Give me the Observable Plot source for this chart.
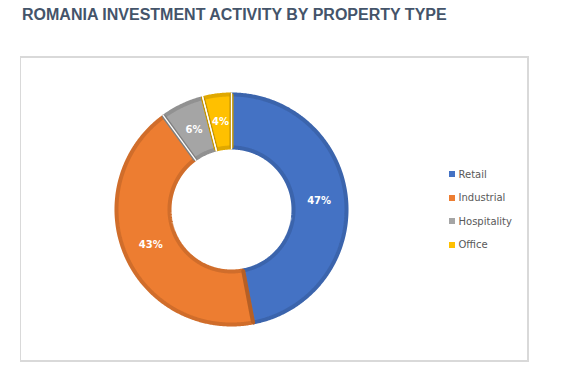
<!DOCTYPE html>
<html>
<head>
<meta charset="utf-8">
<script src="https://cdn.jsdelivr.net/npm/d3@7"></script>
<script src="https://cdn.jsdelivr.net/npm/@observablehq/plot@0.6"></script>
<style>
  body { margin: 0; background: #fff; width: 583px; height: 376px; position: relative; overflow: hidden; }
  #title { position: absolute; left: 22px; top: 6px; font: bold 16px "Liberation Sans", Arial, sans-serif; color: #44546A; white-space: nowrap; }
  #box { position: absolute; left: 20px; top: 56px; width: 506px; height: 302px; border-style: solid; border-color: #d9d9d9; border-width: 2px 2px 2px 1px; }
  #chart { position: absolute; left: 0; top: 0; }
  #legend { position: absolute; left: 449px; top: 162.5px; font: 10px "DejaVu Sans", sans-serif; color: #595959; }
  .item { height: 23.5px; display: flex; align-items: center; white-space: nowrap; }
  .sw { width: 6px; height: 6px; margin-right: 3.5px; }
</style>
</head>
<body>
<div id="title">ROMANIA INVESTMENT ACTIVITY BY PROPERTY TYPE</div>
<div id="box"></div>
<div id="chart"></div>
<div id="legend"></div>
<script>
// Data
const categories = ["Retail", "Industrial", "Hospitality", "Office"];
const shares = [47, 43, 6, 4];
const labels = ["47%", "43%", "6%", "4%"];
const colors = ["#4472C4", "#ED7D31", "#A5A5A5", "#FFC000"];

// Geometry (in radius units; outer visual radius = 1)
const W = 583, H = 376;
const cx = 231, cy = 209, Rpx = 117;
const rOuter = (Rpx - 2) / Rpx, rInner = 62 / Rpx, rLabel = 88 / Rpx;
const total = d3.sum(shares);

const ring = [];
const labelRows = [];
const bounds = [];
let acc = 0;
categories.forEach((type, i) => {
  const a0 = acc / total * 2 * Math.PI;
  acc += shares[i];
  const a1 = acc / total * 2 * Math.PI;
  const n = Math.max(2, Math.ceil((a1 - a0) / (Math.PI / 360)));
  const pts = [];
  for (let k = 0; k <= n; k++) { const a = a0 + (a1 - a0) * k / n; pts.push([rOuter * Math.sin(a), rOuter * Math.cos(a)]); }
  for (let k = n; k >= 0; k--) { const a = a0 + (a1 - a0) * k / n; pts.push([rInner * Math.sin(a), rInner * Math.cos(a)]); }
  pts.push(pts[0]);
  pts.forEach(([x, y]) => ring.push({type, x, y}));
  const am = (a0 + a1) / 2;
  labelRows.push({type, label: labels[i], x: rLabel * Math.sin(am), y: rLabel * Math.cos(am)});
  // thin white separators at the edges of the small slices
  if (shares[i] < 10) {
    [a0, a1].forEach(a => bounds.push({
      x1: (rInner - 2 / Rpx) * Math.sin(a), y1: (rInner - 2 / Rpx) * Math.cos(a),
      x2: (rOuter + 2 / Rpx) * Math.sin(a), y2: (rOuter + 2 / Rpx) * Math.cos(a)
    }));
  }
});

const plot = Plot.plot({
  width: W, height: H,
  margin: 0,
  style: {background: "transparent", overflow: "visible"},
  x: {domain: [-1, 1], range: [cx - Rpx, cx + Rpx], axis: null},
  y: {domain: [-1, 1], range: [cy + Rpx, cy - Rpx], axis: null},
  color: {domain: categories, range: colors},
  marks: [
    Plot.line(ring, {x: "x", y: "y", z: "type", fill: "type", stroke: "type", strokeWidth: 4, strokeLinejoin: "miter", curve: "linear"}),
    Plot.line(ring, {x: "x", y: "y", z: "type", fill: "none", stroke: "#000", strokeOpacity: 0.12, strokeWidth: 4, strokeLinejoin: "miter", curve: "linear"}),
    Plot.link(bounds, {x1: "x1", y1: "y1", x2: "x2", y2: "y2", stroke: "white", strokeWidth: 1.3}),
    Plot.text(labelRows, {x: "x", y: "y", text: "label", fill: "white", fontWeight: "bold", fontSize: 10, fontFamily: "DejaVu Sans"})
  ]
});
document.getElementById("chart").appendChild(plot);

// Legend from the plot's color scale
const cs = plot.scale("color");
const leg = document.getElementById("legend");
cs.domain.forEach((d, i) => {
  const row = document.createElement("div");
  row.className = "item";
  const sw = document.createElement("div");
  sw.className = "sw";
  sw.style.background = cs.range[i];
  const t = document.createElement("span");
  t.textContent = d;
  row.appendChild(sw); row.appendChild(t);
  leg.appendChild(row);
});
</script>
</body>
</html>
